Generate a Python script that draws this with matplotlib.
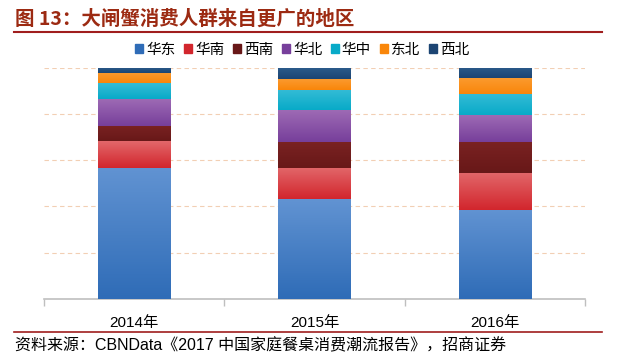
import numpy as np
import matplotlib
matplotlib.use("Agg")
import matplotlib.pyplot as plt
from matplotlib.colors import LinearSegmentedColormap
from matplotlib.lines import Line2D
from matplotlib.patches import Patch

plt.rcParams["font.family"] = ["Liberation Sans", "Noto Sans CJK SC", "DejaVu Sans"]

# data (share %)
years = ["2014年", "2015年", "2016年"]
regions = ["华东", "华南", "西南", "华北", "华中", "东北", "西北"]
huadong = [56.8, 43.1, 38.5]
huanan = [11.5, 13.6, 16.1]
xinan = [6.6, 11.4, 13.5]
huabei = [11.4, 13.5, 11.4]
huazhong = [6.9, 8.9, 9.1]
dongbei = [4.6, 4.7, 6.8]
xibei = [2.3, 4.7, 4.7]
series = [huadong, huanan, xinan, huabei, huazhong, dongbei, xibei]
# (top, bottom) colours for the slight gradient
cols = [("#6193d2", "#2f6cb7"), ("#e2676a", "#d2262d"), ("#7a2222", "#681818"),
        ("#9d6ab4", "#773f9b"), ("#35bcd6", "#08aac8"), ("#fb9a2e", "#f9860a"),
        ("#2b5a8a", "#1c4573")]

fig = plt.figure(figsize=(6.2, 3.64), dpi=100)
W, H = 620, 364
ax = fig.add_axes([44/W, 1-299/H, (585-44)/W, (299-67.5)/H])

x = np.arange(len(years))
bw = 0.4
bottom = np.zeros(len(years))
for vals, (ct, cb), name in zip(series, cols, regions):
    v = np.array(vals)
    bars = ax.bar(x, v, bw, bottom=bottom, color=cb, lw=0, zorder=2)
    cm = LinearSegmentedColormap.from_list(name, [cb, ct])
    for b in bars:
        x0, y0 = b.get_x(), b.get_y()
        grad = np.linspace(0, 1, 64).reshape(-1, 1)
        im = ax.imshow(grad, cmap=cm, aspect="auto", origin="lower",
                       extent=[x0, x0+b.get_width(), y0, y0+b.get_height()], zorder=3)
        im.set_clip_path(b)
    bottom += v

ax.set_xlim(-0.5, 2.5)
ax.set_ylim(0, bottom.max())
ax.set_yticks([20, 40, 60, 80, 100])
ax.yaxis.grid(True, ls=(0, (4, 3)), color="#f2cfb4", lw=0.8, zorder=0)
ax.tick_params(axis="y", length=0, labelleft=False)
for s in ["left", "right", "top"]:
    ax.spines[s].set_visible(False)
ax.spines["bottom"].set_color("#bfbfbf")
ax.spines["bottom"].set_linewidth(1.2)
ax.set_xticks(x)
ax.set_xticklabels(years, fontsize=11)
ax.tick_params(axis="x", length=0, pad=12)
ax.set_xticks([-0.5, 0.5, 1.5, 2.5], minor=True)
ax.tick_params(axis="x", which="minor", length=5, color="#bfbfbf", width=1)

handles = [Patch(color=cb, label=n) for (ct, cb), n in zip(cols, regions)]
fig.legend(handles=handles, loc="center", bbox_to_anchor=(302/W, 1-50/H), ncol=7,
           frameon=False, fontsize=10.5, handlelength=0.55, handleheight=0.55,
           handletextpad=0.2, columnspacing=0.6)

fig.text(15/W, 1-19/H, "图 13：大闸蟹消费人群来自更广的地区", fontsize=14, fontweight="bold",
         color="#9c2a12", va="center", ha="left", family=["Noto Sans CJK SC", "DejaVu Sans"])
fig.add_artist(Line2D([14/W, 602/W], [1-32/H, 1-32/H], color="#a01e1e", lw=1.5))
fig.add_artist(Line2D([14/W, 602/W], [1-332/H, 1-332/H], color="#a01e1e", lw=1.2))
fig.text(15/W, 1-346/H, "资料来源：CBNData《2017 中国家庭餐桌消费潮流报告》，招商证券",
         fontsize=11.5, va="center", ha="left")

fig.savefig("out.png", dpi=100)
